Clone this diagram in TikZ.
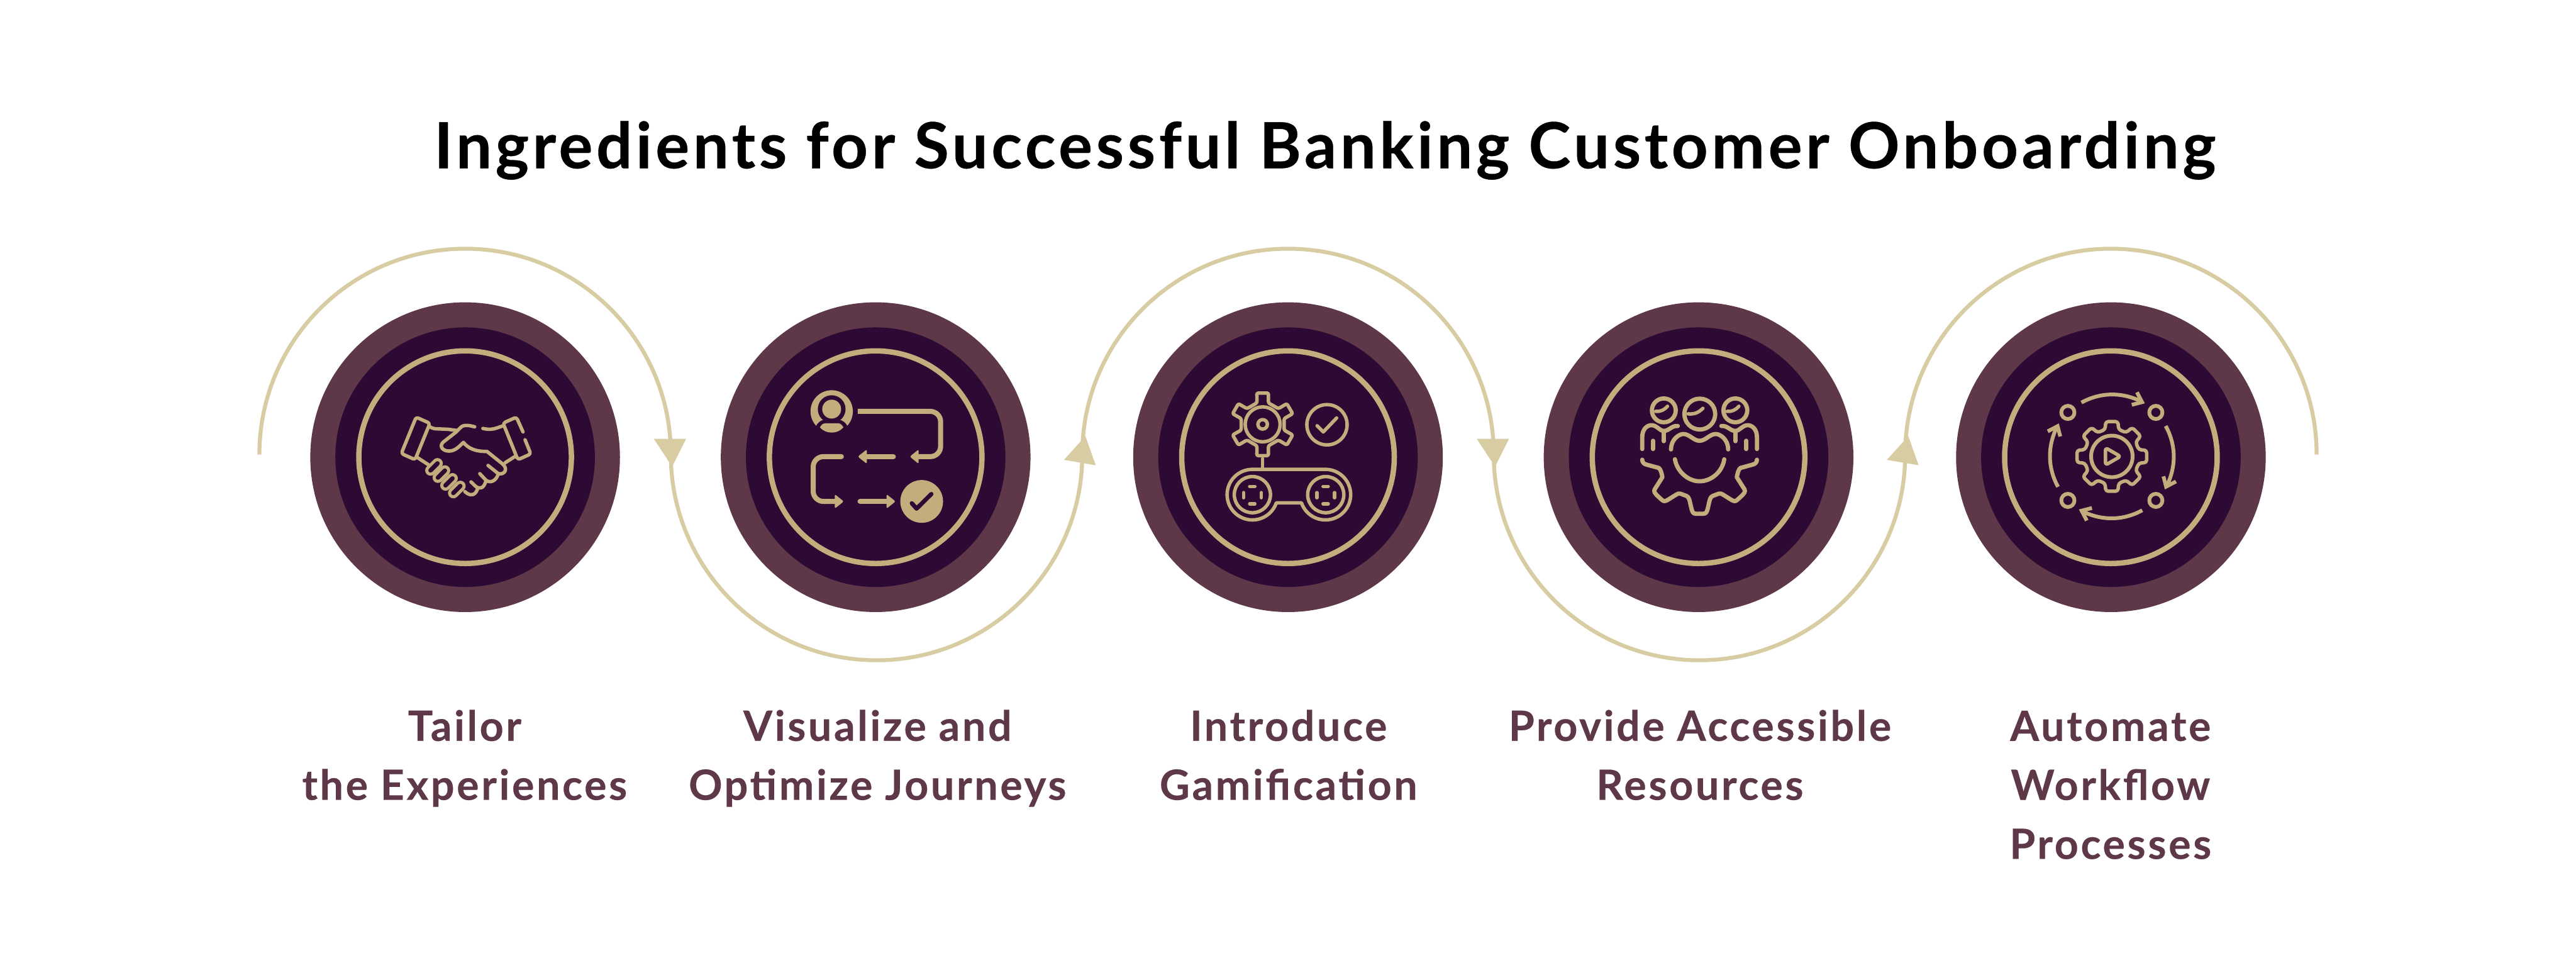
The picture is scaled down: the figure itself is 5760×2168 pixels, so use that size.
\documentclass[tikz,border=0pt]{standalone}
\usepackage{fontspec}
\setmainfont{Lato}
\definecolor{plumouter}{HTML}{5E3749}
\definecolor{pluminner}{HTML}{2C0A33}
\definecolor{goldring}{HTML}{C4AD7C}
\definecolor{goldarc}{HTML}{D8CCA3}
\usetikzlibrary{calc}
\tikzset{
  outerdisc/.style={circle,fill=plumouter,draw=none,minimum size=6.92cm,inner sep=0pt},
  innerdisc/.style={circle,fill=pluminner,draw=none,minimum size=5.8cm,inner sep=0pt},
  ringdisc/.style={circle,draw=goldring,line width=3.4pt,minimum size=4.75cm,inner sep=0pt},
  flow/.style={draw=goldarc,line width=2.5pt},
  flowhead/.style={fill=goldarc,draw=none},
  titletext/.style={font=\bfseries\fontsize{40.4}{49}\selectfont\addfontfeature{LetterSpace=5.55,FakeBold=0.3},text=black,inner sep=0pt,anchor=base west},
  labeltext/.style={font=\bfseries\fontsize{26.5}{37.5}\selectfont\addfontfeature{LetterSpace=5.5,FakeBold=0.3},text=plumouter,align=center,inner sep=0pt,anchor=base},
  iconline/.style={draw=goldring,line width=2.2pt,line cap=round,line join=round},
  iconfill/.style={fill=goldring,draw=none},
  iconcut/.style={draw=pluminner,line cap=round,line join=round},
  iconframe/.style={x=0.00459cm,y=-0.00459cm},
}
\newcommand{\fingerpill}[2]{%
  \draw[goldring,line width=6.8pt,line cap=round] ($(#1,#2)+(-17,17)$) -- ($(#1,#2)+(17,-17)$);
  \draw[pluminner,line width=2.8pt,line cap=round] ($(#1,#2)+(-17,17)$) -- ($(#1,#2)+(17,-17)$);
}
\begin{document}
\begin{tikzpicture}[x=0.01cm,y=-0.01cm]
\useasboundingbox (0,0) rectangle (5760,2168);
\fill[white] (0,0) rectangle (5760,2168);
% title
\node[titletext] (title) at (970,376) {Ingredients for Successful Banking Customer Onboarding};
% discs
\foreach \n/\cx in {1/1040,2/1958,3/2880,4/3798,5/4720}{
  \node[outerdisc] (o\n) at (\cx,1022) {};
  \node[innerdisc] (i\n) at (\cx,1022) {};
  \node[ringdisc] (r\n) at (\cx,1022) {};
}
% flow arcs
\coordinate (a0) at (580,1016);
\coordinate (a1) at (1500,1016);
\coordinate (a2) at (2420,1016);
\coordinate (a3) at (3340,1016);
\coordinate (a4) at (4260,1016);
\draw[flow] (a0) arc[start angle=180,end angle=360,radius=460];
\draw[flow] (a1) arc[start angle=180,end angle=0,radius=460];
\draw[flow] (a2) arc[start angle=180,end angle=360,radius=460];
\draw[flow] (a3) arc[start angle=180,end angle=0,radius=460];
\draw[flow] (a4) arc[start angle=180,end angle=360,radius=460];
% arrow heads
\foreach \d in {0,1840}{
  \fill[flowhead] (1462+\d,981) -- (1534+\d,981) -- (1503+\d,1043) -- cycle;
  \fill[flowhead] (2427+\d,975) -- (2379+\d,1028) -- (2450+\d,1040) -- cycle;
}
% labels
\node[labeltext] (l1) at (1039,1788) {Tailor\\the Experiences};
\node[labeltext] (l2) at (1962,1788) {Visualize and\\Optimize Journeys};
\node[labeltext] (l3) at (2881,1788) {Introduce\\Gamification};
\node[labeltext] (l4) at (3801,1788) {Provide Accessible\\Resources};
\node[labeltext] (l5) at (4719,1920) {Automate\\Workflow\\Processes};
% ---------- icon 1 handshake
\begin{scope}[shift={(680,660)},iconframe]
  \draw[iconline,rounded corners=1.5pt] (545,593) -- (612,623) -- (540,800) -- (473,770) -- cycle;
  \draw[iconline,rounded corners=1.5pt] (1065,665) -- (1033,593) -- (968,622) -- (1040,800) -- (1103,772) -- (1075,703);
  \draw[iconline] (612,640) .. controls (625,648) and (635,650) .. (650,650) -- (700,652) -- (745,658);
  \draw[iconline] (830,640) .. controls (800,632) and (775,628) .. (760,645) -- (740,665) -- (680,712)
     .. controls (655,730) and (670,758) .. (705,758) .. controls (735,758) and (755,735) .. (775,716)
     .. controls (800,745) and (830,760) .. (890,760) -- (965,820) .. controls (995,845) and (975,875) .. (945,868) -- (895,828);
  \draw[iconline] (945,868) .. controls (935,905) and (905,915) .. (885,900) -- (855,868);
  \draw[iconline] (885,902) .. controls (875,940) and (855,945) .. (835,930) -- (812,908);
  \draw[iconline] (845,938) .. controls (835,975) and (810,975) .. (795,965) -- (782,955);
  \draw[iconline] (870,648) .. controls (900,655) and (920,652) .. (940,645) -- (968,635);
  \draw[iconline] (978,815) -- (1025,785);
  \draw[iconline] (552,790) -- (610,828);
  \fingerpill{632}{835}\fingerpill{668}{870}\fingerpill{705}{908}\fingerpill{743}{945}
\end{scope}
% ---------- icon 2 journey
\begin{scope}[shift={(1600,660)},iconframe]
  \fill[iconfill] (565,565) circle[radius=103];
  \fill[pluminner] (565,554) circle[radius=67.5];
  \fill[pluminner] (488,638) .. controls (495,622) and (510,610) .. (525,606) -- (605,606) .. controls (620,610) and (635,622) .. (642,638) -- (665,690) -- (465,690) -- cycle;
  \fill[iconfill] (565,554) circle[radius=46];
  \fill[iconfill] (508,642.5) .. controls (515,630) and (522,623) .. (535,623) -- (595,623) .. controls (608,623) and (615,630) .. (622,642.5)
     .. controls (605,662) and (585,668) .. (565,668) .. controls (545,668) and (525,662) .. (508,642.5) -- cycle;
  \draw[goldring,line width=3.2pt] (692,565) -- (1045,565) arc[start angle=270,end angle=360,radius=50] -- (1095,735) arc[start angle=0,end angle=90,radius=50] -- (985,785);
  \fill[iconfill,rounded corners=1pt] (945,785) -- (988,750) -- (988,820) -- cycle;
  \draw[goldring,line width=3.2pt,line cap=round] (865,785) -- (730,785);
  \fill[iconfill,rounded corners=1pt] (692,785) -- (736,750) -- (736,820) -- cycle;
  \draw[goldring,line width=3.2pt,line cap=round] (612,785) -- (525,785) arc[start angle=270,end angle=180,radius=50] -- (475,953) arc[start angle=180,end angle=90,radius=50] -- (585,1003);
  \fill[iconfill,rounded corners=1pt] (624,1003) -- (580,968) -- (580,1038) -- cycle;
  \draw[goldring,line width=3.2pt,line cap=round] (703,1003) -- (838,1003);
  \fill[iconfill,rounded corners=1pt] (876,1003) -- (832,968) -- (832,1038) -- cycle;
  \fill[iconfill] (1003,1003) circle[radius=104];
  \draw[iconcut,line width=2.7pt] (955,1012) -- (978,1038) -- (1050,967);
\end{scope}
% ---------- icon 3 gamification
\begin{scope}[shift={(2520,660)},iconframe]
  \begin{scope}[shift={(660,628)}]
    \draw[iconline,rounded corners=1pt] (100.5:155) \foreach \a in {90,30,-30,-90,-150}{ -- (\a-10.5:155) -- (\a-15:108) -- (\a-45:108) -- (\a-49.5:155) } -- (-220.5:155) -- (-225:108) -- (-255:108) -- cycle;
    \draw[iconline] (0,0) circle[radius=85];
    \draw[iconline] (0,0) circle[radius=23];
  \end{scope}
  \draw[iconline] (660,795) -- (660,848);
  \draw[iconline] (973,630) circle[radius=98];
  \draw[iconline] (925,635) -- (955,665) -- (1020,597);
  \draw[iconline] (610,847) arc[start angle=270,end angle=19,radius=123] -- (849,1010) arc[start angle=161,end angle=-90,radius=123] -- cycle;
  \foreach \dx in {0,357}{
    \draw[iconline] (610+\dx,970) circle[radius=88];
    \draw[iconline] (597+\dx,930) -- (622+\dx,930);
    \draw[iconline] (597+\dx,1015) -- (622+\dx,1015);
    \draw[iconline] (567+\dx,960) -- (567+\dx,985);
    \draw[iconline] (653+\dx,960) -- (653+\dx,985);
  }
\end{scope}
% ---------- icon 4 team + gear
\begin{scope}[shift={(3440,660)},iconframe]
  \tikzset{teamline/.style={iconline,line width=2.7pt}}
  \draw[teamline] (610,560) circle[radius=58];
  \draw[teamline] (785,578) circle[radius=75];
  \draw[teamline] (958,560) circle[radius=58];
  \draw[iconline] (570,565) .. controls (590,567) and (610,560) .. (628,540);
  \draw[iconline] (728,577) .. controls (760,580) and (780,570) .. (800,550);
  \draw[iconline] (918,565) .. controls (938,567) and (958,560) .. (975,540);
  \foreach \s/\o in {1/0,-1/1568}{
    \draw[teamline] (\o+\s*505,748) -- (\o+\s*505,690) .. controls (\o+\s*505,650) and (\o+\s*530,632) .. (\o+\s*550,632)
       .. controls (\o+\s*575,632) and (\o+\s*590,660) .. (\o+\s*610,660) .. controls (\o+\s*635,660) and (\o+\s*650,632) .. (\o+\s*678,636);
    \draw[teamline] (\o+\s*610,660) -- (\o+\s*610,710);
    \draw[teamline] (\o+\s*557,708) -- (\o+\s*557,748);
    \draw[teamline] (\o+\s*505,800) .. controls (\o+\s*505,815) and (\o+\s*515,822) .. (\o+\s*530,825) -- (\o+\s*585,840) .. controls (\o+\s*595,845) and (\o+\s*600,870) .. (\o+\s*603,885)
       -- (\o+\s*565,945) .. controls (\o+\s*560,955) and (\o+\s*568,965) .. (\o+\s*575,972) -- (\o+\s*600,995) .. controls (\o+\s*610,1005) and (\o+\s*618,1002) .. (\o+\s*630,995)
       -- (\o+\s*670,970) .. controls (\o+\s*685,958) and (\o+\s*695,968) .. (\o+\s*720,976) .. controls (\o+\s*735,982) and (\o+\s*735,1000) .. (\o+\s*745,1040) .. controls (\o+\s*750,1060) and (\o+\s*755,1063) .. (\o+\s*770,1063) -- (784,1063);
  }
  \draw[teamline] (645,750) .. controls (645,700) and (685,675) .. (705,675) .. controls (735,675) and (755,708) .. (784,708)
     .. controls (813,708) and (833,675) .. (863,675) .. controls (883,675) and (923,700) .. (923,750);
  \draw[teamline] (664,798) .. controls (675,860) and (730,905) .. (784,905) .. controls (840,905) and (895,860) .. (904,798);
\end{scope}
% ---------- icon 5 automation
\begin{scope}[shift={(4360,660)},iconframe]
  \begin{scope}[shift={(788,784)}]
    \draw[iconline,rounded corners=1.6pt] (-10:172) \foreach \a in {0,45,...,270}{ -- (\a+10:172) -- (\a+14:135) -- (\a+31:135) -- (\a+35:172) } -- (325:172) -- (329:135) -- (346:135) -- cycle;
    \draw[iconline,line width=2.4pt] (0,0) circle[radius=101];
  \end{scope}
  \draw[iconline,rounded corners=1.5pt] (757,742) -- (830,784) -- (757,826) -- cycle;
  \foreach \px/\py in {574/570,1002/570,574/998,1002/998}{
    \draw[iconline,line width=2.4pt] (\px,\py) circle[radius=32];
  }
  \foreach \r in {0,90,180,270}{
    \begin{scope}[rotate around={\r:(788,784)}]
      \draw[goldring,line width=2.4pt] (640,522) .. controls (735,470) and (840,470) .. (938,520);
      \draw[goldring,line width=2.4pt,miter limit=10] (910,472) -- (935,520) -- (885,533);
    \end{scope}
  }
\end{scope}
\end{tikzpicture}
\end{document}
